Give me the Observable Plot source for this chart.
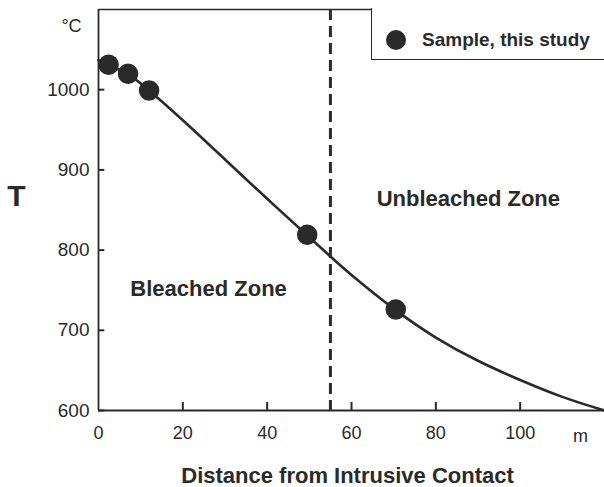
<!DOCTYPE html>
<html>
<head>
<meta charset="utf-8">
<script src="https://cdn.jsdelivr.net/npm/d3@7"></script>
<script src="https://cdn.jsdelivr.net/npm/@observablehq/plot@0.6"></script>
<style>
  html, body { margin: 0; padding: 0; background: #fff; }
  #wrap { position: relative; width: 604px; height: 487px; font-family: "Liberation Sans", Arial, sans-serif; color: #2a2a2a; }
  #legend { position: absolute; left: 371px; top: 8px; width: 240px; height: 52px; border-left: 1.5px solid #2a2a2a; border-bottom: 1.5px solid #2a2a2a; box-sizing: border-box; background: #fff; }
  #legend .dot { position: absolute; left: 14px; top: 32px; width: 20px; height: 20px; border-radius: 50%; background: #2a2a2a; transform: translateY(-50%); }
  #legend .lab { position: absolute; left: 50px; top: 32px; transform: translateY(-50%); font-weight: bold; font-size: 19px; white-space: nowrap; }
</style>
</head>
<body>
<div id="wrap"></div>
<script>
// Samples (distance m, temperature °C)
const sampleDist = [2.4, 7, 12, 49.5, 70.5];
const sampleTemp = [1031, 1020, 999, 819, 726];

// Model curve
const curveDist = [0, 2.4, 7, 12, 20, 30, 40, 50, 55, 60, 70, 80, 90, 100, 110, 120];
const curveTemp = [1037, 1031, 1019, 999, 962, 913, 864, 816, 792, 769, 727, 691, 662, 638, 617, 600];

// Zone boundary
const boundaryDist = [55];

// Ticks
const xTicks = [20, 40, 60, 80, 100];
const xTickLabels = [0, 20, 40, 60, 80, 100];
const yTicks = [600, 700, 800, 900, 1000];

const legendLabel = "Sample, this study";
const xTitle = "Distance from Intrusive Contact";
const yTitle = "T";
const yUnit = "°C";
const xUnit = "m";

// Annotations (data-space anchors)
const zoneLabels = [
  {label: "Bleached Zone", dist: 26.1, temp: 751},
  {label: "Unbleached Zone", dist: 87.7, temp: 864}
];

const ink = "#2a2a2a";
const samples = sampleDist.map((d, i) => ({dist: d, temp: sampleTemp[i]}));
const curve = curveDist.map((d, i) => ({dist: d, temp: curveTemp[i]}));
const xTickData = xTicks.map(v => ({v}));
const yTickData = yTicks.map(v => ({v}));

const chart = Plot.plot({
  width: 604,
  height: 487,
  marginTop: 9,
  marginBottom: 77,
  marginLeft: 98,
  marginRight: 0,
  style: {fontFamily: "Liberation Sans, Arial, sans-serif", fontSize: "19px", color: ink, background: "#fff", overflow: "visible"},
  x: {domain: [0, 120], axis: null},
  y: {domain: [600, 1100], axis: null},
  marks: [
    // frame lines
    Plot.ruleX([0], {stroke: ink, strokeWidth: 1.8}),
    Plot.ruleY([600], {stroke: ink, strokeWidth: 2}),
    Plot.ruleY([1100], {stroke: ink, strokeWidth: 1.5}),
    // inward ticks
    Plot.ruleY(yTickData, {y: "v", x1: 0, x2: 1.5, stroke: ink, strokeWidth: 2}),
    Plot.ruleX(xTickData, {x: "v", y1: 600, y2: 610, stroke: ink, strokeWidth: 2}),
    // tick labels
    Plot.axisY(yTicks, {anchor: "left", tickSize: 0, tickPadding: 9, tickFormat: d3.format("d"), fill: ink, fontSize: 19, label: null}),
    Plot.axisX(xTickLabels, {anchor: "bottom", tickSize: 0, tickPadding: 16, tickFormat: d3.format("d"), fill: ink, fontSize: 18, label: null}),
    Plot.text([xUnit], {x: 114.3, y: 600, dy: 26, fill: ink, fontSize: 18}),
    Plot.text([yUnit], {x: 0, y: 1079, dx: -27, fill: ink, fontSize: 18}),
    Plot.text([yTitle], {x: 0, y: 867, dx: -82, fill: ink, fontSize: 30, fontWeight: "bold"}),
    Plot.text([xTitle], {frameAnchor: "bottom", dy: 72, dx: -4, fill: ink, fontSize: 22, fontWeight: "bold"}),
    // boundary
    Plot.ruleX(boundaryDist, {stroke: ink, strokeWidth: 3, strokeDasharray: "11,6"}),
    // zones
    Plot.text(zoneLabels, {x: "dist", y: "temp", text: "label", fill: ink, fontSize: 22, fontWeight: "bold"}),
    // curve & samples
    Plot.line(curve, {x: "dist", y: "temp", curve: "natural", stroke: ink, strokeWidth: 2.6}),
    Plot.dot(samples, {x: "dist", y: "temp", r: 9.5, fill: ink, stroke: ink})
  ]
});

const wrap = document.getElementById("wrap");
wrap.appendChild(chart);
const legend = document.createElement("div");
legend.id = "legend";
legend.innerHTML = `<div class="dot"></div><div class="lab"></div>`;
legend.querySelector(".lab").textContent = legendLabel;
wrap.appendChild(legend);
</script>
</body>
</html>
